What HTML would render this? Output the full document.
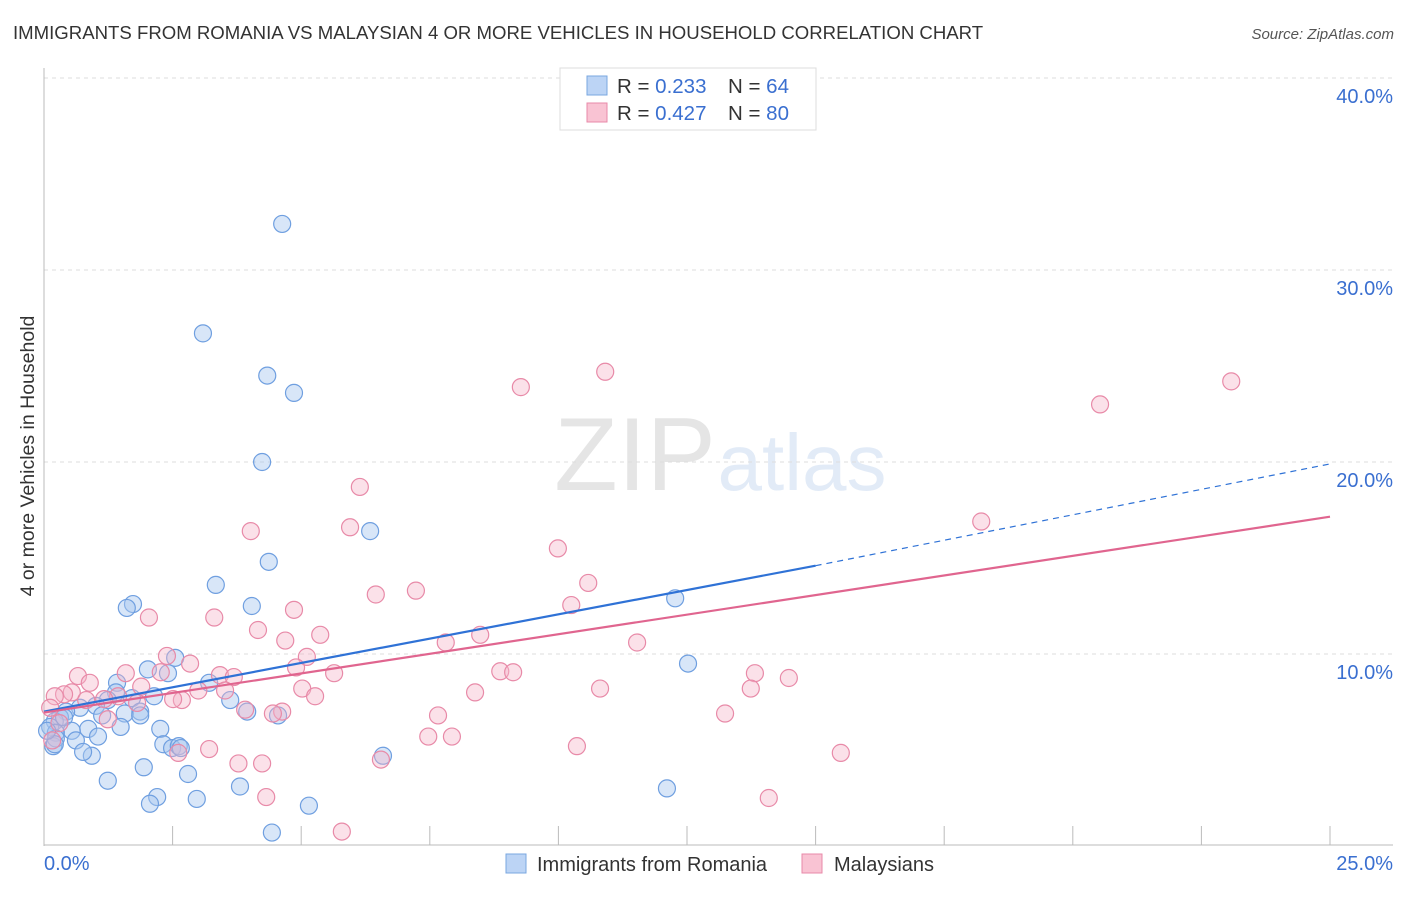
<!DOCTYPE html>
<html><head><meta charset="utf-8"><style>
body{margin:0;background:#fff;font-family:"Liberation Sans",sans-serif;}
svg text{font-family:"Liberation Sans",sans-serif;}
</style></head><body>
<svg id="chart" width="1406" height="892" xmlns="http://www.w3.org/2000/svg">
<text x="13" y="39" font-size="18.6" fill="#333">IMMIGRANTS FROM ROMANIA VS MALAYSIAN 4 OR MORE VEHICLES IN HOUSEHOLD CORRELATION CHART</text>
<text x="1394" y="39" font-size="15" fill="#555" text-anchor="end" font-style="italic">Source: ZipAtlas.com</text>
<text transform="translate(34,456) rotate(-90)" font-size="19.5" fill="#333" text-anchor="middle">4 or more Vehicles in Household</text>
<g opacity="0.25">
<text x="635" y="490" font-size="104" font-family="Liberation Serif" fill="#999" text-anchor="middle">ZIP</text>
<text x="802" y="490" font-size="80" fill="#8fb1e0" text-anchor="middle">atlas</text>
</g>
<g id="grid"></g><g id="axes"></g><g id="pts"></g><g id="lines"></g>
<g>
<rect x="560" y="68" width="256" height="62" fill="#fff" stroke="#ddd"/>
<rect x="587" y="76" width="20" height="19" fill="#bcd4f5" stroke="#7aa7e0"/>
<rect x="587" y="103" width="20" height="19" fill="#f9c3d3" stroke="#e88aa8"/>
<text x="617" y="93" font-size="20.5" fill="#333">R = <tspan fill="#3a6fd0">0.233</tspan><tspan x="728">N = </tspan><tspan fill="#3a6fd0">64</tspan></text>
<text x="617" y="120" font-size="20.5" fill="#333">R = <tspan fill="#3a6fd0">0.427</tspan><tspan x="728">N = </tspan><tspan fill="#3a6fd0">80</tspan></text>
</g>
<g>
<rect x="506" y="854" width="20" height="19" fill="#bcd4f5" stroke="#7aa7e0"/>
<text x="537" y="871" font-size="20" fill="#333">Immigrants from Romania</text>
<rect x="802" y="854" width="20" height="19" fill="#f9c3d3" stroke="#e88aa8"/>
<text x="834" y="871" font-size="20" fill="#333">Malaysians</text>
</g>
</svg>
<script>
const yTicks=[10,20,30,40];
const xTickCount=10;
const blueX=[4.63,3.09,4.34,4.86,4.24,6.34,4.37,3.34,4.04,1.73,1.61,12.27,12.52,2.55,2.02,2.41,3.21,1.42,1.40,2.14,3.62,1.71,1.24,1.01,0.70,0.43,0.31,0.21,0.12,0.39,1.87,1.57,1.87,3.95,4.55,1.13,1.49,0.86,2.26,0.54,1.05,0.23,0.62,0.18,2.32,2.49,2.62,2.66,6.59,0.93,0.76,1.94,2.80,1.24,3.81,2.20,2.06,2.97,5.15,4.43,12.11,0.23,0.21,0.06];
const blueY=[32.4,26.7,24.5,23.6,20.0,16.4,14.8,13.6,12.5,12.6,12.4,12.9,9.5,9.8,9.2,9.0,8.5,8.5,8.0,7.8,7.6,7.7,7.6,7.3,7.2,7.0,6.7,6.5,6.2,6.7,7.0,6.9,6.8,7.0,6.8,6.8,6.2,6.1,6.1,6.0,5.7,5.9,5.5,5.2,5.3,5.1,5.2,5.1,4.7,4.7,4.9,4.1,3.75,3.4,3.1,2.55,2.2,2.45,2.1,0.7,3.0,5.6,5.3,6.0];
const pinkX=[10.91,9.27,23.08,20.53,6.14,18.22,5.95,4.02,9.99,10.58,6.45,7.23,10.25,4.86,3.31,2.04,8.48,5.37,4.16,7.81,11.53,4.69,2.39,5.11,2.84,4.90,8.87,9.12,5.64,13.82,1.59,2.27,3.42,3.69,14.48,0.66,0.89,1.89,3.00,5.02,10.81,13.74,8.38,3.52,0.54,0.39,0.21,1.44,1.17,2.68,5.27,2.51,0.82,1.81,0.12,3.91,4.63,7.66,13.24,4.45,1.24,7.47,7.93,10.36,3.21,2.61,15.49,6.55,3.78,4.24,4.32,14.09,5.79,0.16,0.3];
const pinkY=[24.7,23.9,24.2,23.0,18.7,16.9,16.6,16.4,15.5,13.7,13.1,13.3,12.55,12.3,11.9,11.9,11.0,11.0,11.25,10.6,10.6,10.7,9.9,9.85,9.5,9.3,9.1,9.05,9.0,9.0,9.0,9.05,8.9,8.8,8.75,8.85,8.5,8.3,8.1,8.2,8.2,8.2,8.0,8.1,8.0,7.9,7.8,7.8,7.65,7.6,7.8,7.65,7.6,7.45,7.2,7.1,7.0,6.8,6.9,6.9,6.6,5.7,5.7,5.2,5.05,4.85,4.85,4.5,4.3,4.3,2.55,2.5,0.75,5.5,6.4];
const blueLine=[0,7.0,15,14.6,25,19.9];
const pinkLine=[0,6.95,25,17.15];
const X0=44,X1=1330,Y0=846,PXY=19.2;
const sx=v=>X0+(v/25)*(X1-X0);
const sy=v=>Y0-v*PXY;
const NS="http://www.w3.org/2000/svg";
function mk(parent,tag,attrs){const e=document.createElementNS(NS,tag);for(const k in attrs)e.setAttribute(k,attrs[k]);document.getElementById(parent).appendChild(e);return e;}
mk('grid','line',{x1:X0,x2:1393,y1:78,y2:78,stroke:'#ddd','stroke-dasharray':'4,4'});
yTicks.forEach(t=>{
 const l=mk('grid','line',{x1:X0,x2:1393,y1:sy(t),y2:sy(t),stroke:'#ddd','stroke-dasharray':'4,4'});
 
 
 const tx=mk('grid','text',{x:1393,y:sy(t)+25,'font-size':20,fill:'#3a6fd0','text-anchor':'end'});
 tx.textContent=t.toFixed(1)+'%';
 
 
});
mk('axes','line',{x1:X0,x2:X0,y1:68,y2:846,stroke:'#bbb'});
mk('axes','line',{x1:X0,x2:1393,y1:845,y2:845,stroke:'#bbb'});
for(let i=1;i<=xTickCount;i++){const x=sx(i*2.5);mk('axes','line',{x1:x,x2:x,y1:826,y2:845,stroke:'#bbb'});}
const xl=mk('axes','text',{x:44,y:870,'font-size':20,fill:'#3a6fd0'});xl.textContent='0.0%';


const xr=mk('axes','text',{x:1393,y:870,'font-size':20,fill:'#3a6fd0','text-anchor':'end'});xr.textContent='25.0%';


blueX.forEach((v,i)=>{const c=mk('pts','circle',{cx:sx(v),cy:sy(blueY[i]),r:8.5,fill:'#a9c8f0','fill-opacity':0.45,stroke:'#6f9fe0','stroke-width':1.2});
 
 });
pinkX.forEach((v,i)=>{const c=mk('pts','circle',{cx:sx(v),cy:sy(pinkY[i]),r:8.5,fill:'#f6b3c8','fill-opacity':0.4,stroke:'#e88aa8','stroke-width':1.2});
 
 });
const b1=mk('lines','line',{x1:sx(blueLine[0]),y1:sy(blueLine[1]),x2:sx(blueLine[2]),y2:sy(blueLine[3]),stroke:'#2f72d6','stroke-width':2.2});


const b2=mk('lines','line',{x1:sx(blueLine[2]),y1:sy(blueLine[3]),x2:sx(blueLine[4]),y2:sy(blueLine[5]),stroke:'#2f72d6','stroke-width':1.2,'stroke-dasharray':'6,5'});


const p1=mk('lines','line',{x1:sx(pinkLine[0]),y1:sy(pinkLine[1]),x2:sx(pinkLine[2]),y2:sy(pinkLine[3]),stroke:'#e0658f','stroke-width':2.2});


</script>
</body></html>
